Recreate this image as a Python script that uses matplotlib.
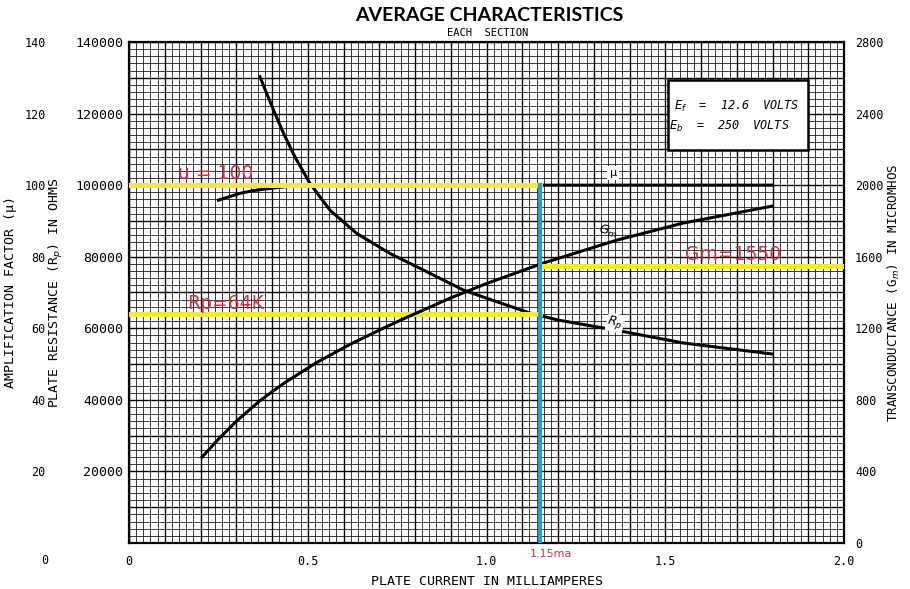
import numpy as np
import matplotlib.pyplot as plt
from matplotlib.ticker import MultipleLocator, FuncFormatter
from matplotlib.patches import Rectangle

# plate resistance curve (ohms) vs plate current (mA)
rp_current = [0.366, 0.404, 0.432, 0.464, 0.506, 0.562, 0.637, 0.730, 0.823,
              0.935, 1.00, 1.12, 1.20, 1.36, 1.55, 1.80]
rp_ohms = [130300, 121000, 114500, 107900, 100500, 93000, 86500, 80900, 76300,
           70700, 68400, 64300, 62300, 59500, 55900, 52800]

# transconductance curve (micromhos)
gm_current = [0.204, 0.25, 0.30, 0.366, 0.431, 0.526, 0.618, 0.711, 0.767,
              0.90, 1.00, 1.158, 1.365, 1.55, 1.80]
gm_umhos = [480, 580, 680, 795, 890, 1010, 1110, 1200, 1252, 1370, 1450,
            1564, 1693, 1788, 1883]

# amplification factor curve
mu_current = [0.25, 0.31, 0.35, 0.404, 0.45, 0.55, 1.80]
mu_vals = [95.8, 97.7, 98.5, 99.2, 99.7, 100, 100]

# operating point markers
op_current = 1.15
op_mu = 100
op_rp = 64000
op_gm = 1550

mono = 'DejaVu Sans Mono'
red = '#c8374a'
yellow = '#f0e645'
blue = '#2f9cc4'

fig = plt.figure(figsize=(9.1, 5.89), dpi=100)
ax = fig.add_axes([0.1418, 0.0781, 0.7857, 0.8506])
ax.set_xlim(0, 2.0)
ax.set_ylim(0, 140000)

# graph paper grid
ax.xaxis.set_major_locator(MultipleLocator(0.1))
ax.xaxis.set_minor_locator(MultipleLocator(0.02))
ax.yaxis.set_major_locator(MultipleLocator(10000))
ax.yaxis.set_minor_locator(MultipleLocator(2000))
ax.grid(which='major', color='black', lw=1.0)
ax.grid(which='minor', color='#1a1a1a', lw=0.6)
ax.set_axisbelow(True)

def xfmt(v, pos):
    if abs(v * 2 - round(v * 2)) < 1e-6:
        return '0' if abs(v) < 1e-6 else f'{v:.1f}'
    return ''

def yfmt(v, pos):
    if v > 0 and int(round(v)) % 20000 == 0:
        return f'{int(round(v))}'
    return ''

ax.xaxis.set_major_formatter(FuncFormatter(xfmt))
ax.yaxis.set_major_formatter(FuncFormatter(yfmt))
ax.tick_params(which='both', length=0)
ax.tick_params(axis='x', pad=9, labelsize=8.5)
ax.tick_params(axis='y', pad=4, labelsize=9.5)
for lab in ax.get_xticklabels() + ax.get_yticklabels():
    lab.set_fontfamily(mono)
for sp in ax.spines.values():
    sp.set_linewidth(1.6)

ax.set_xlabel('PLATE CURRENT IN MILLIAMPERES', family=mono, fontsize=9.5, labelpad=5)
ax.set_ylabel('PLATE RESISTANCE (R$_p$) IN OHMS', family=mono, fontsize=9.5)
ax.yaxis.set_label_coords(-0.09, 0.5)

ax.plot(rp_current, rp_ohms, color='black', lw=2.2, zorder=3)
ax.plot([0, op_current], [op_rp, op_rp], color=yellow, lw=3.6, zorder=4)

# amplification factor axis, far left
ax_mu = ax.twinx()
ax_mu.set_ylim(0, 140)
ax_mu.yaxis.tick_left()
ax_mu.set_yticks(np.arange(20, 141, 20))
ax_mu.tick_params(axis='y', length=0, pad=60, labelsize=8.5)
for lab in ax_mu.get_yticklabels():
    lab.set_fontfamily(mono)
for sp in ax_mu.spines.values():
    sp.set_visible(False)
ax_mu.text(-0.118, -0.034, '0', transform=ax_mu.transAxes, family=mono,
           fontsize=8.5, ha='center', va='center')
ax_mu.text(-0.166, 0.5, 'AMPLIFICATION FACTOR (\u03bc)', transform=ax_mu.transAxes,
           family=mono, fontsize=9.5, rotation=90, ha='center', va='center')
ax_mu.plot(mu_current, mu_vals, color='black', lw=2.2, zorder=3)
ax_mu.plot([0, op_current], [op_mu, op_mu], color=yellow, lw=3.6, zorder=4)

# transconductance axis, right
ax_gm = ax.twinx()
ax_gm.set_ylim(0, 2800)
ax_gm.set_yticks(np.arange(0, 2801, 400))
ax_gm.tick_params(axis='y', length=0, pad=8, labelsize=8.5)
for lab in ax_gm.get_yticklabels():
    lab.set_fontfamily(mono)
for sp in ax_gm.spines.values():
    sp.set_visible(False)
ax_gm.text(1.07, 0.5, 'TRANSCONDUCTANCE (G$_m$) IN MICROMHOS', transform=ax_gm.transAxes,
           family=mono, fontsize=9, rotation=90, ha='center', va='center')
ax_gm.plot(gm_current, gm_umhos, color='black', lw=2.2, zorder=3)
ax_gm.plot([op_current, 2.0], [op_gm, op_gm], color=yellow, lw=3.6, zorder=4)
ax_gm.plot([op_current, op_current], [0, op_mu * 20], color=blue, lw=3, zorder=5)

# curve labels
ax_gm.text(1.354, op_mu * 20 + 70, '\u03bc', fontsize=8, ha='center', va='center',
           bbox=dict(facecolor='white', edgecolor='none', pad=1.5), zorder=6)
ax_gm.text(1.34, 1740, 'G$_m$', fontsize=9, ha='center', va='center',
           rotation=-12, fontstyle='italic', zorder=6)
ax_gm.text(1.36, 1230, 'R$_p$', fontsize=9, ha='center', va='center',
           rotation=-14, fontstyle='italic',
           bbox=dict(facecolor='white', edgecolor='none', pad=0.5), zorder=6)

# operating point annotations
ax_gm.text(0.137, 2035, 'u = 100', color=red, fontsize=13.5, zorder=7)
ax_gm.text(0.162, 1310, 'Rp=64K', color=red, fontsize=13.5, zorder=7)
ax_gm.text(1.555, 1580, 'Gm=1550', color=red, fontsize=13.5, zorder=7)
ax_gm.text(1.18, -0.022, '1.15ma', color=red, fontsize=8, ha='center', va='center',
           transform=ax_gm.get_xaxis_transform())

# conditions box
ax_gm.add_patch(Rectangle((1.508, 2196), 0.391, 390, facecolor='white',
                          edgecolor='black', lw=1.8, zorder=6))
ax_gm.text(1.70, 2440, '$E_f$  =  12.6  VOLTS', family=mono, fontstyle='italic',
           fontsize=8.5, ha='center', va='center', zorder=7)
ax_gm.text(1.68, 2330, '$E_b$  =  250  VOLTS', family=mono, fontstyle='italic',
           fontsize=8.5, ha='center', va='center', zorder=7)

fig.text(0.538, 0.973, 'AVERAGE CHARACTERISTICS', family='Lato', weight='bold',
         fontsize=14, ha='center', va='center')
fig.text(0.536, 0.944, 'EACH  SECTION', family=mono, fontsize=7.5,
         ha='center', va='center')

fig.savefig('out.png', dpi=100)
